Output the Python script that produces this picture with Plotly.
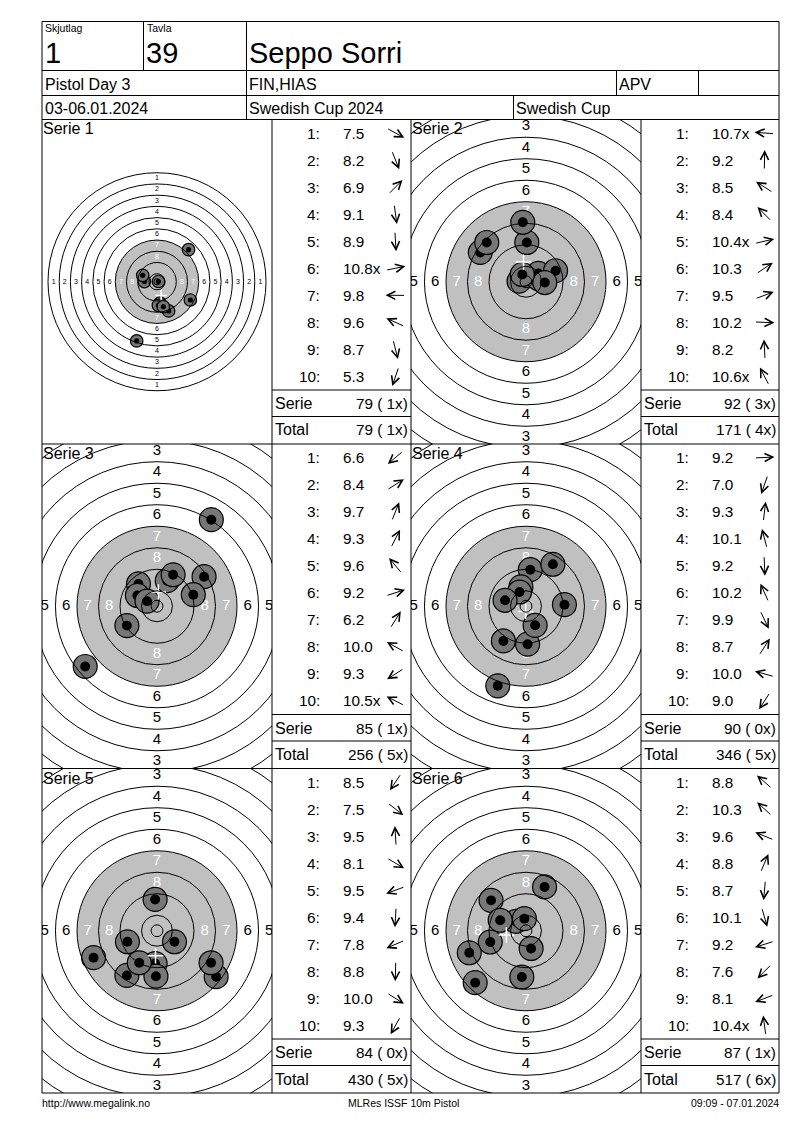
import math
import plotly.graph_objects as go

W, H = 800, 1130
FONT = "Liberation Sans, Arial, sans-serif"

# ---------------- header / footer texts ----------------
hdr_squad_label = "Skjutlag"
hdr_squad = "1"
hdr_target_label = "Tavla"
hdr_target = "39"
hdr_name = "Seppo Sorri"
hdr_event = "Pistol Day 3"
hdr_club = "FIN,HIAS"
hdr_class = "APV"
hdr_dates = "03-06.01.2024"
hdr_competition = "Swedish Cup 2024"
hdr_cup = "Swedish Cup"
footer_left = "http://www.megalink.no"
footer_mid = "MLRes ISSF 10m Pistol"
footer_right = "09:09 - 07.01.2024"

series_names = ["Serie 1", "Serie 2", "Serie 3", "Serie 4", "Serie 5", "Serie 6"]

# ---------------- shot data (scores, inner-ten flags, positions in mm) ----------------
s1_scores = [7.5, 8.2, 6.9, 9.1, 8.9, 10.8, 9.8, 9.6, 8.7, 5.3]
s1_inner = [0, 0, 0, 0, 0, 1, 0, 0, 0, 0]
s1_x = [23.8, 8.3, 22.5, 2.1, 1.0, 1.0, -9.0, -10.2, 4.5, -14.5]
s1_y = [-13.0, -20.8, 22.9, -15.3, -16.8, 0.2, 0.1, 4.6, -17.8, -42.2]

s2_scores = [10.7, 9.2, 8.5, 8.4, 10.4, 10.3, 9.5, 10.2, 8.2, 10.6]
s2_inner = [1, 0, 0, 0, 1, 0, 0, 0, 0, 1]
s2_x = [-2.6, 0.3, -17.0, -14.6, 4.7, 4.6, 11.0, 7.0, -1.2, -1.4]
s2_y = [0.2, 14.6, 10.9, 14.6, 1.1, 3.1, 4.1, -0.3, 22.1, 2.7]

s3_scores = [6.6, 8.4, 9.7, 9.3, 9.6, 9.2, 6.2, 10.0, 9.3, 10.5]
s3_inner = [0, 0, 0, 0, 0, 0, 0, 0, 0, 1]
s3_x = [-26.7, 17.5, 3.8, 6.0, -6.9, 13.5, 20.2, -7.3, -11.2, -3.7]
s3_y = [-22.4, 11.0, 9.5, 11.7, 8.3, 4.3, 32.2, 4.0, -7.2, 1.9]

s4_scores = [9.2, 7.0, 9.3, 10.1, 9.2, 10.2, 9.9, 8.7, 10.0, 9.0]
s4_inner = [0, 0, 0, 0, 0, 0, 0, 0, 0, 0]
s4_x = [14.3, -10.5, 1.6, -1.9, 0.6, -2.4, 3.4, 10.0, -7.8, -8.4]
s4_y = [0.6, -29.6, 13.6, 7.2, -14.1, 5.3, -7.1, 15.6, 2.2, -12.9]

s5_scores = [8.5, 7.5, 9.5, 8.1, 9.5, 9.4, 7.8, 8.8, 10.0, 9.3]
s5_inner = [0, 0, 0, 0, 0, 0, 0, 0, 0, 0]
s5_x = [-11.2, 22.0, -0.7, 20.1, -11.0, -0.7, -23.6, -0.4, 6.5, -6.6]
s5_y = [-16.6, -17.1, 11.65, -11.9, -4.1, -12.2, -10.0, -16.9, -4.1, -11.9]

s6_scores = [8.8, 10.3, 9.6, 8.8, 8.7, 10.1, 9.2, 7.6, 8.1, 10.4]
s6_inner = [0, 0, 0, 0, 0, 0, 0, 0, 0, 1]
s6_x = [-13.0, -3.8, -9.6, 6.9, -1.55, 1.9, -13.3, -18.9, -21.1, -0.6]
s6_y = [11.3, 3.5, 3.9, 16.3, -17.2, -6.6, -4.2, -19.3, -8.2, 4.5]

series_scores = [s1_scores, s2_scores, s3_scores, s4_scores, s5_scores, s6_scores]
series_inner = [s1_inner, s2_inner, s3_inner, s4_inner, s5_inner, s6_inner]
series_x = [s1_x, s2_x, s3_x, s4_x, s5_x, s6_x]
series_y = [s1_y, s2_y, s3_y, s4_y, s5_y, s6_y]

# ---------------- ISSF 10m pistol target (mm) ----------------
ring_values = [1, 2, 3, 4, 5, 6, 7, 8, 9, 10]
ring_radius_mm = [77.75, 69.75, 61.75, 53.75, 45.75, 37.75, 29.75, 21.75, 13.75, 5.75]
inner_ten_radius_mm = 2.2
aiming_mark_ring = 7
label_rings = [1, 2, 3, 4, 5, 6, 7, 8]

# ---------------- style / layout ----------------
panel_scale = [1.402, 2.689, 2.689, 2.689, 2.689, 2.689]   # px per mm
label_size = [7, 15, 15, 15, 15, 15]
TXT = 16
NUM = 15.3
shot_radius_mm = 4.45
shot_dot_radius_mm = 1.85
row_tops = [119.5, 444.0, 768.5]
row_bots = [444.0, 768.5, 1093.0]
target_x0 = [42.0, 411.0]
target_x1 = [272.0, 641.0]
score_x0 = [272.0, 641.0]
score_x1 = [411.0, 779.0]

fig = go.Figure()
shapes = []
annotations = []
layout_axes = {}


def px(x):
    return x / W


def py(y):
    return 1 - y / H


def txt(x, y, s, size, anchor="left", color="black"):
    annotations.append(dict(
        x=px(x), y=py(y), xref="paper", yref="paper", text=s, showarrow=False,
        xanchor=anchor, yanchor="middle", borderpad=0, borderwidth=0,
        font=dict(family=FONT, size=size, color=color)))


def hline(x0, x1, y):
    shapes.append(dict(type="line", xref="paper", yref="paper", x0=px(x0), x1=px(x1),
                       y0=py(y), y1=py(y), line=dict(color="black", width=1), layer="above"))


def vline(x, y0, y1):
    shapes.append(dict(type="line", xref="paper", yref="paper", x0=px(x), x1=px(x),
                       y0=py(y0), y1=py(y1), line=dict(color="black", width=1), layer="above"))


def arrow(cx, cy, ang, L=20):
    ux, uy = math.cos(ang), math.sin(ang)
    hx = cx + L / 2 * ux
    hy = cy - L / 2 * uy
    annotations.append(dict(
        x=px(hx), y=py(hy), xref="paper", yref="paper", ax=-L * ux, ay=L * uy,
        axref="pixel", ayref="pixel", text="", showarrow=True, arrowhead=5,
        arrowsize=1.6, arrowwidth=1, arrowcolor="black", standoff=0))


total = 0
total_x = 0
for i in range(6):
    row, col = i // 2, i % 2
    n = i + 1
    xa, ya = ("x" if n == 1 else f"x{n}"), ("y" if n == 1 else f"y{n}")
    s = panel_scale[i]
    x0, x1 = target_x0[col], target_x1[col]
    y0, y1 = row_tops[row], row_bots[row]
    cx, cy = (x0 + x1) / 2, (y0 + y1) / 2
    xr = [(x0 - cx) / s, (x1 - cx) / s]
    yr = [-(y1 - cy) / s, (cy - y0) / s]
    layout_axes["xaxis" if n == 1 else f"xaxis{n}"] = dict(
        domain=[px(x0), px(x1)], range=xr, visible=False, fixedrange=True, anchor=ya)
    layout_axes["yaxis" if n == 1 else f"yaxis{n}"] = dict(
        domain=[py(y1), py(y0)], range=yr, visible=False, fixedrange=True, anchor=xa)

    # black aiming mark (grey)
    R7 = ring_radius_mm[ring_values.index(aiming_mark_ring)]
    shapes.append(dict(type="circle", xref=xa, yref=ya, x0=-R7, x1=R7, y0=-R7, y1=R7,
                       fillcolor="#c0c0c0", line=dict(width=0), layer="below"))
    # rings
    for R in ring_radius_mm + [inner_ten_radius_mm]:
        shapes.append(dict(type="circle", xref=xa, yref=ya, x0=-R, x1=R, y0=-R, y1=R,
                           line=dict(color="black", width=1), layer="above"))

    # ring numbers (only those whose centre falls inside the panel)
    lx, ly, lt, lc = [], [], [], []
    for v in label_rings:
        r = ring_radius_mm[ring_values.index(v)] - 4
        col_txt = "white" if v >= aiming_mark_ring else "black"
        for (dx, dy) in [(0, 1), (0, -1), (-1, 0), (1, 0)]:
            X, Y = dx * r, dy * r
            if xr[0] <= X <= xr[1] and yr[0] <= Y <= yr[1]:
                lx.append(X)
                ly.append(Y)
                lt.append(str(v))
                lc.append(col_txt)
    fig.add_trace(go.Scatter(x=lx, y=ly, text=lt, mode="text", xaxis=xa, yaxis=ya,
                             textfont=dict(family=FONT, size=label_size[i], color=lc),
                             cliponaxis=True, hoverinfo="skip"))

    # shots (outer hole then centre dot, in shot order)
    sx, sy, sz, sc, sl = [], [], [], [], []
    for (x, y) in zip(series_x[i], series_y[i]):
        sx += [x, x]
        sy += [y, y]
        sz += [2 * shot_radius_mm * s, 2 * shot_dot_radius_mm * s]
        sc += ["#777777", "black"]
        sl += [1.2, 0]
    fig.add_trace(go.Scatter(x=sx, y=sy, mode="markers", xaxis=xa, yaxis=ya,
                             marker=dict(size=sz, color=sc, opacity=1,
                                         line=dict(color="black", width=sl)),
                             cliponaxis=True, hoverinfo="skip"))
    # mean point of impact
    mx = sum(series_x[i]) / len(series_x[i])
    my = sum(series_y[i]) / len(series_y[i])
    fig.add_trace(go.Scatter(x=[mx], y=[my], mode="markers", xaxis=xa, yaxis=ya,
                             marker=dict(symbol="cross-thin", size=8 if i == 0 else 11,
                                         opacity=1, line=dict(color="white", width=1.5)),
                             hoverinfo="skip"))

    # series title
    txt(x0 + 1, y0 + 9.5, series_names[i], TXT)

    # score column
    sx0, sx1 = score_x0[col], score_x1[col]
    for k, (sc_v, inn) in enumerate(zip(series_scores[i], series_inner[i])):
        yy = y0 + 13.5 + 27.05 * k
        txt(sx0 + 47.5, yy, f"{k + 1}:", NUM, anchor="right")
        txt(sx0 + 70.5, yy, f"{sc_v:.1f}" + ("x" if inn else ""), NUM)
        ang = math.atan2(series_y[i][k], series_x[i][k])
        arrow(sx0 + 123.5, yy, ang)
    serie_sum = sum(int(math.floor(v + 1e-9)) for v in series_scores[i])
    serie_x = sum(series_inner[i])
    total += serie_sum
    total_x += serie_x
    txt(sx0 + 2.5, y0 + 284.3, "Serie", TXT)
    txt(sx1 - 3, y0 + 284.3, f"{serie_sum} ({serie_x:2d}x)", NUM, anchor="right")
    txt(sx0 + 2.5, y0 + 310.5, "Total", TXT)
    txt(sx1 - 3, y0 + 310.5, f"{total} ({total_x:2d}x)", NUM, anchor="right")
    hline(sx0, sx1, y0 + 270.5)
    hline(sx0, sx1, y0 + 297)

# ---------------- grid lines ----------------
hline(42, 779, 21.5)
hline(42, 779, 1093)
vline(42, 21.5, 1093)
vline(779, 21.5, 1093)
hline(42, 779, 70.5)
hline(42, 779, 95.5)
hline(42, 779, 119.5)
vline(143.5, 21.5, 70.5)
vline(246.5, 21.5, 119.5)
vline(616.5, 70.5, 95.5)
vline(698.5, 70.5, 95.5)
vline(513.5, 95.5, 119.5)
hline(42, 779, 444)
hline(42, 779, 768.5)
vline(272, 119.5, 1093)
vline(411, 119.5, 1093)
vline(641, 119.5, 1093)

# ---------------- header texts ----------------
txt(44.5, 28, hdr_squad_label, 10.5)
txt(146.5, 28, hdr_target_label, 10.5)
txt(44.5, 52.5, hdr_squad, 29)
txt(145.5, 52.5, hdr_target, 29)
txt(248.5, 52.5, hdr_name, 29)
txt(44.5, 84.5, hdr_event, TXT)
txt(248.5, 84.5, hdr_club, TXT)
txt(618.5, 84.5, hdr_class, TXT)
txt(44.5, 108.5, hdr_dates, TXT)
txt(248.5, 108.5, hdr_competition, TXT)
txt(515.5, 108.5, hdr_cup, TXT)

txt(42, 1103, footer_left, 10.5)
txt(403, 1103, footer_mid, 10.5, anchor="center")
txt(779, 1103, footer_right, 10.5, anchor="right")

fig.update_layout(
    width=W, height=H, autosize=False, margin=dict(l=0, r=0, t=0, b=0, pad=0),
    paper_bgcolor="white", plot_bgcolor="white", showlegend=False,
    shapes=shapes, annotations=annotations, **layout_axes)

fig.write_html("out.html", config={"displayModeBar": False, "staticPlot": True},
               post_script="document.body.style.margin='0px';")
